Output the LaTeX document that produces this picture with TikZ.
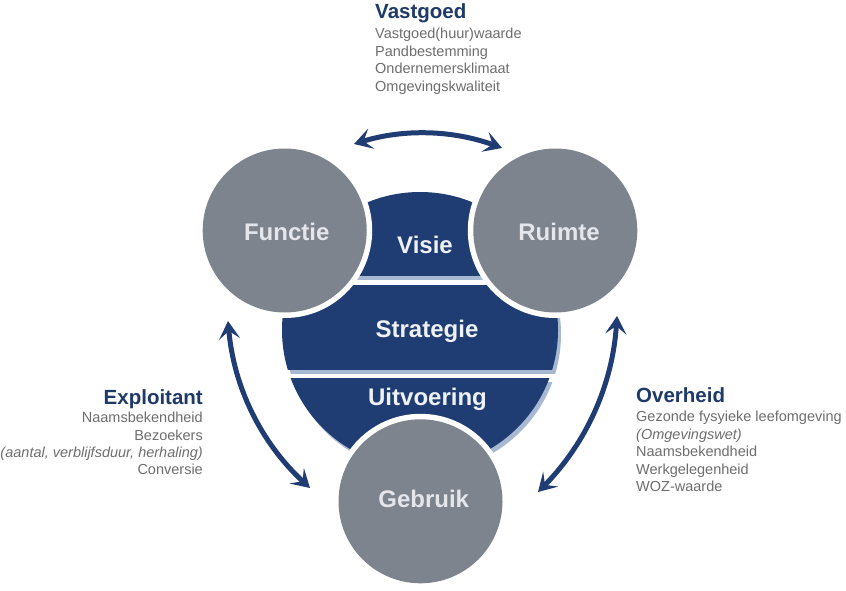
\documentclass[tikz,border=0pt]{standalone}
\usepackage{fontspec}
\setmainfont{Liberation Sans}
\usetikzlibrary{arrows.meta}
\definecolor{navy}{HTML}{1F3D73}
\definecolor{shadowblue}{HTML}{A7B8D3}
\definecolor{circgray}{HTML}{7E848D}
\definecolor{headblue}{HTML}{1F3A68}
\definecolor{bodygray}{HTML}{6E6E6E}
\definecolor{circtext}{HTML}{E4E6EC}
\definecolor{centertext}{HTML}{EEF1F6}
\begin{document}
\begin{tikzpicture}[x=1pt,y=-1pt,
  graycirc/.style={circle, fill=circgray, minimum size=164pt, inner sep=0pt},
  circlabel/.style={font=\fontsize{24}{28}\selectfont\bfseries, text=circtext, anchor=base, inner sep=0pt},
  centerlabel/.style={font=\fontsize{24}{28}\selectfont\bfseries, text=centertext, anchor=base, inner sep=0pt},
  head/.style={font=\fontsize{20.5}{24}\selectfont\bfseries, text=headblue, inner sep=0pt},
  body/.style={font=\fontsize{14.5}{17.5}\selectfont, text=bodygray, inner sep=0pt},
  bigarrow/.style={draw=navy, line width=5pt, {Stealth[length=18pt,width=21pt,inset=8pt]}-{Stealth[length=18pt,width=21pt,inset=8pt]}}
]
\useasboundingbox (0,0) rectangle (846,591);
\fill[white] (0,0) rectangle (846,591);

% central blue sections with drop shadow
\foreach \ya/\yb in {150/275, 285/369, 378/600} {
  \begin{scope}[shift={(3,4)}]
    \clip (250,\ya) rectangle (600,\yb);
    \fill[shadowblue] (420,330) circle[radius=138];
  \end{scope}
  \begin{scope}
    \clip (250,\ya) rectangle (600,\yb);
    \fill[navy] (420,330) circle[radius=138];
  \end{scope}
}

% white cut-outs around the gray circles
\fill[white] (284.7,230.5) circle[radius=87.5];
\fill[white] (555.3,230.5) circle[radius=87.5];
\fill[white] (420.5,501.3) circle[radius=87.5];

% gray circles
\node[graycirc] (functie) at (284.7,230.5) {};
\node[graycirc] (ruimte) at (555.3,230.5) {};
\node[graycirc] (gebruik) at (420.5,501.3) {};

\node[circlabel] (lfunctie) at (286.7,240) {Functie};
\node[circlabel] (lruimte) at (559,240) {Ruimte};
\node[circlabel] (lgebruik) at (423.7,507.5) {Gebruik};

\node[centerlabel] (visie) at (425,253.3) {Visie};
\node[centerlabel] (strategie) at (427,337.3) {Strategie};
\node[centerlabel] (uitvoering) at (427.5,405) {Uitvoering};

% arrows
\coordinate (tl) at (354,144);
\coordinate (tr) at (502,148);
\coordinate (tc1) at (403.8,128.7);
\coordinate (tc2) at (452.5,130);
\draw[bigarrow] (tl) .. controls (tc1) and (tc2) .. (tr);

\coordinate (lt) at (228,321);
\coordinate (lb) at (310,488);
\coordinate (lc1) at (233.8,387.3);
\coordinate (lc2) at (261.1,442.9);
\draw[bigarrow] (lt) .. controls (lc1) and (lc2) .. (lb);

\coordinate (rt) at (617,316);
\coordinate (rb) at (538,492);
\coordinate (rc1) at (612.6,384.5);
\coordinate (rc2) at (586.3,443.1);
\draw[bigarrow] (rt) .. controls (rc1) and (rc2) .. (rb);

% Vastgoed block
\node[head, anchor=base west] (vh) at (375,18.5) {Vastgoed};
\node[body, anchor=base west] (v1) at (375,39) {Vastgoed(huur)waarde};
\node[body, anchor=base west] (v2) at (375,56.7) {Pandbestemming};
\node[body, anchor=base west] (v3) at (375,74) {Ondernemersklimaat};
\node[body, anchor=base west] (v4) at (375,91.7) {Omgevingskwaliteit};

% Exploitant block
\node[head, anchor=base east] (eh) at (203,404) {Exploitant};
\node[body, anchor=base east] (e1) at (203,422.7) {Naamsbekendheid};
\node[body, anchor=base east] (e2) at (203,440) {Bezoekers};
\node[body, anchor=base east] (e3) at (203,457) {\itshape (aantal, verblijfsduur, herhaling)};
\node[body, anchor=base east] (e4) at (203,474.3) {Conversie};

% Overheid block
\node[head, anchor=base west] (oh) at (636,402.7) {Overheid};
\node[body, anchor=base west] (o1) at (636,421.7) {Gezonde fysyieke leefomgeving};
\node[body, anchor=base west] (o2) at (636,439.3) {\itshape (Omgevingswet)};
\node[body, anchor=base west] (o3) at (636,456.7) {Naamsbekendheid};
\node[body, anchor=base west] (o4) at (636,474.3) {Werkgelegenheid};
\node[body, anchor=base west] (o5) at (636,491.7) {WOZ-waarde};
\end{tikzpicture}
\end{document}
